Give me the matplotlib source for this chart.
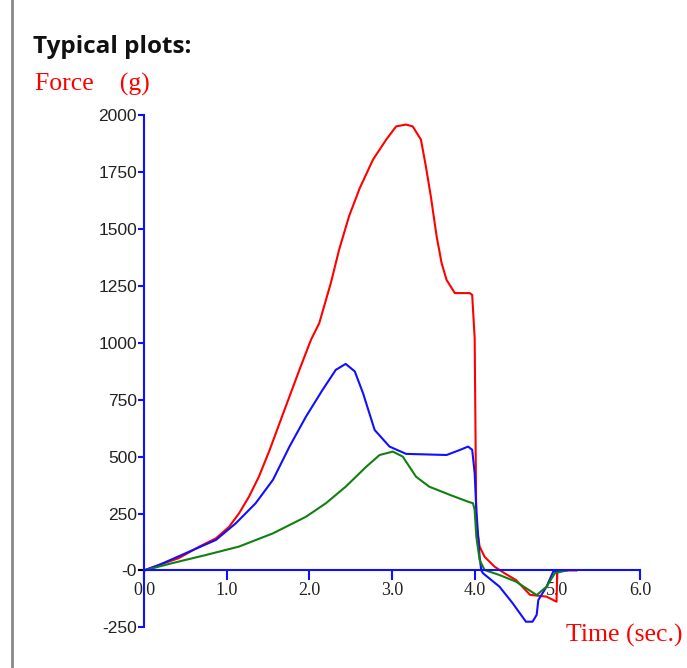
import numpy as np
import matplotlib
matplotlib.use('Agg')
import matplotlib.pyplot as plt
from matplotlib.lines import Line2D

# Force curves (time in sec, force in g)
red_t = [0.0, 0.18, 0.42, 0.67, 0.87, 1.03, 1.15, 1.27, 1.39, 1.52, 1.64, 1.76,
         1.88, 2.02, 2.12, 2.26, 2.36, 2.48, 2.61, 2.77, 2.93, 3.05, 3.17, 3.25,
         3.35, 3.41, 3.47, 3.54, 3.60, 3.66, 3.76, 3.94, 3.97, 4.00, 4.02, 4.06,
         4.12, 4.24, 4.36, 4.50, 4.67, 4.87, 4.99, 5.00, 5.23]
red_f = [0, 24, 54, 105, 141, 192, 251, 324, 412, 529, 647, 764,
         881, 1013, 1086, 1262, 1408, 1555, 1679, 1804, 1892, 1950, 1958, 1950,
         1892, 1774, 1642, 1467, 1350, 1276, 1218, 1218, 1210, 1020, 200, 105,
         60, 17, -12, -42, -107, -115, -137, 0, 0]

blue_t = [0.0, 0.18, 0.55, 0.87, 1.11, 1.35, 1.56, 1.76, 1.96, 2.16, 2.32, 2.44,
          2.55, 2.65, 2.79, 2.97, 3.17, 3.66, 3.82, 3.92, 3.97, 4.00, 4.02, 4.04,
          4.06, 4.08, 4.10, 4.30, 4.46, 4.62, 4.70, 4.75, 4.77, 4.87, 4.95, 5.10]
blue_f = [0, 24, 83, 134, 207, 295, 398, 544, 676, 793, 881, 907,
          874, 778, 617, 544, 512, 507, 529, 544, 530, 427, 266, 163,
          60, 0, -12, -71, -144, -225, -225, -195, -130, -71, -5, 0]

green_t = [0.0, 0.34, 0.75, 1.15, 1.56, 1.96, 2.20, 2.44, 2.69, 2.85, 3.01, 3.13,
           3.29, 3.45, 3.70, 3.92, 3.98, 4.00, 4.02, 4.06, 4.12, 4.30, 4.50,
           4.75, 4.87, 4.97, 5.11]
green_f = [0, 32, 68, 105, 163, 236, 295, 368, 456, 507, 522, 500,
           412, 368, 332, 302, 295, 266, 149, 46, 2, -20, -49,
           -108, -71, -12, 0]

x_ticks = [0, 1, 2, 3, 4, 5, 6]
x_labels = ['0.0', '1.0', '2.0', '3.0', '4.0', '5.0', '6.0']
y_ticks = [-250, 0, 250, 500, 750, 1000, 1250, 1500, 1750, 2000]
y_labels = ['-250', '-0', '250', '500', '750', '1000', '1250', '1500', '1750', '2000']

W, H = 687, 668
fig = plt.figure(figsize=(W / 100, H / 100), dpi=100)

# axes placed so that x 0..6 -> px 144..640 and y -250..2000 -> px 627..115
x0, x1 = 144, 640
ytop, ybot = 115, 627.4
ax = fig.add_axes([x0 / W, 1 - ybot / H, (x1 - x0) / W, (ybot - ytop) / H])
ax.set_xlim(0, 6)
ax.set_ylim(-250, 2000)

blue = '#1010ff'
ax.plot(red_t, red_f, color='#ff0000', lw=1.5, clip_on=False)
ax.plot(blue_t, blue_f, color=blue, lw=1.5, clip_on=False)
ax.plot(green_t, green_f, color='#108010', lw=1.5, clip_on=False)

# little cursor marks at the origin
ax.plot([0, 0], [0, 75], color='cyan', lw=1.5, clip_on=False)
ax.plot([-0.06, 0.12], [0, 0], color='black', lw=1.5, clip_on=False)

for s in ['top', 'right']:
    ax.spines[s].set_visible(False)
ax.spines['bottom'].set_position(('data', 0))
ax.spines['bottom'].set_color(blue)
ax.spines['left'].set_color(blue)
ax.spines['bottom'].set_linewidth(1.5)
ax.spines['left'].set_linewidth(1.5)

ax.set_xticks(x_ticks)
ax.set_xticklabels(x_labels, family='Liberation Serif', fontsize=13, color='#222222')
ax.set_yticks(y_ticks)
ax.set_yticklabels(y_labels, family='Liberation Sans', fontsize=12.5, color='#222222')
ax.tick_params(axis='x', direction='out', length=7, width=1.5, color=blue, pad=1)
ax.tick_params(axis='y', direction='out', length=4, width=1.5, color=blue, pad=1)

# texts
fig.text(33 / W, 1 - 47 / H, 'Typical plots:', fontsize=17.5, fontweight='bold',
         family='Open Sans', va='center', ha='left', color='#111111')
fig.text(35 / W, 1 - 84 / H, 'Force    (g)', fontsize=18.5, family='Liberation Serif',
         va='center', ha='left', color='#ff0000')
fig.text(566 / W, 1 - 635 / H, 'Time (sec.)', fontsize=18.5, family='Liberation Serif',
         va='center', ha='left', color='#ff0000')

# grey border line on the left
fig.add_artist(Line2D([12 / W, 12 / W], [0, 1], color='#888888', lw=2,
                      transform=fig.transFigure))

fig.savefig('out.png', dpi=100)
